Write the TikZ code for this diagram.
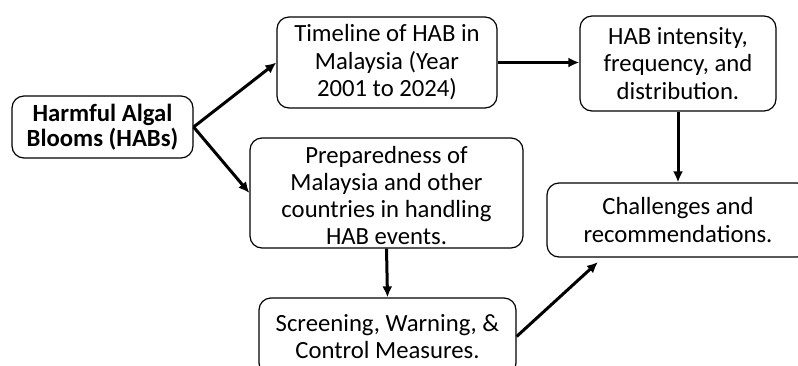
\documentclass[tikz,border=0pt]{standalone}
\usepackage{fontspec}
\setmainfont{Carlito}
\usetikzlibrary{arrows.meta,calc}
\tikzset{
  box/.style={draw=black, line width=1.2pt, rounded corners=12pt, align=center,
    inner sep=0pt, font=\fontsize{24.7}{27.5}\selectfont},
  boxtext/.style={align=center, inner sep=0pt, font=\fontsize{24.7}{27}\selectfont},
  conn/.style={line width=3pt, -{Latex[length=11pt,width=10pt]}}
}
\begin{document}
\begin{tikzpicture}[x=1pt,y=-1pt]
\useasboundingbox (0,0) rectangle (798,365);
\clip (0,0) rectangle (798,365);
\fill[white] (0,0) rectangle (798,365);
% boxes
\node[box, minimum width=181pt, minimum height=62pt] (hab) at (102.5,127)
  {\raisebox{-4pt}{\shortstack{\textbf{Harmful Algal}\\[-1pt]\textbf{Blooms (HABs)}}}};
\node[box, minimum width=220pt, minimum height=91pt] (tl) at (387,62.5)
  {Timeline of HAB in\\Malaysia (Year\\2001 to 2024)};
\node[box, minimum width=196pt, minimum height=95pt] (int) at (678,63.5)
  {HAB intensity,\\frequency, and\\distribution.};
\node[box, minimum width=273pt, minimum height=110pt] (prep) at (386.5,193) {};
\node[boxtext] (prept) at (386.5,195.5)
  {Preparedness of\\Malaysia and other\\countries in handling\\HAB events.};
\node[box, minimum width=262pt, minimum height=74pt] (ch) at (678,220)
  {Challenges and\\recommendations.};
\node[box, minimum width=257pt, minimum height=77pt] (scr) at (387.5,336.5)
  {Screening, Warning, \&\\Control Measures.};
\coordinate (chin) at (598,262);
% connectors
\draw[conn] (hab.east) -- (tl.west);
\draw[conn] (hab.east) -- (prep.west);
\draw[conn] (tl.east) -- (tl.east -| int.west);
\draw[conn] (int.south) -- (ch.north);
\draw[conn] (prep.south) -- (scr.north);
\draw[conn] (scr.east) -- (chin);
\end{tikzpicture}
\end{document}
